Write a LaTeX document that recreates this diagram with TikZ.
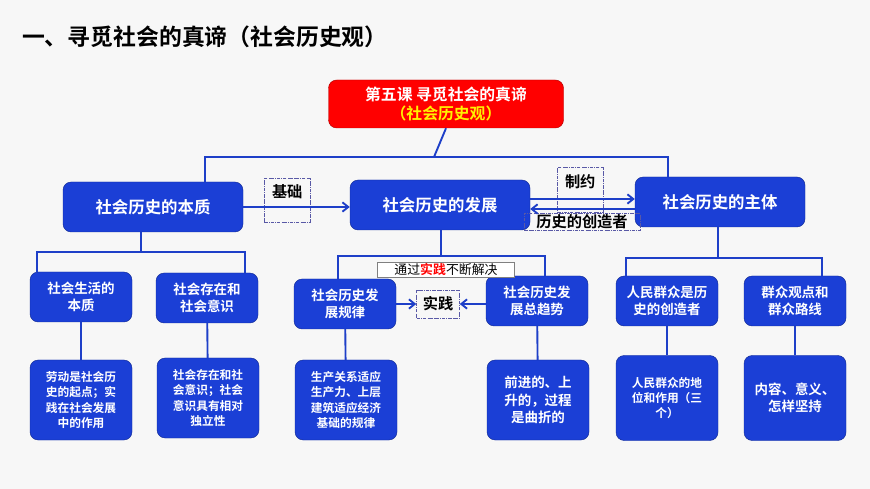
\documentclass[tikz,border=0pt]{standalone}
\usepackage{fontspec}
\setmainfont{Noto Sans CJK SC}[BoldFont={Noto Sans CJK SC Bold}]
\usetikzlibrary{positioning,calc,arrows.meta}
\definecolor{boxblue}{HTML}{1B3FD6}
\definecolor{lineblue}{HTML}{1E3FC8}
\tikzset{topic/.style={draw=boxblue!70!black, fill=boxblue, rounded corners=7pt, text=white, font=\bfseries, align=center, inner sep=2pt}}
\tikzset{big/.style={topic, minimum width=180*0.03cm, minimum height=50*0.03cm, font=\fontsize{14}{16}\selectfont\bfseries}}
\tikzset{mid/.style={topic, minimum width=102*0.03cm, minimum height=50*0.03cm, font=\fontsize{11.5}{14}\selectfont\bfseries}}
\tikzset{low/.style={topic, minimum width=102*0.03cm, minimum height=80*0.03cm, font=\fontsize{10}{13}\selectfont\bfseries}}
\tikzset{tag/.style={draw=gray!70!blue, densely dash dot, font=\fontsize{13}{15}\selectfont\bfseries, inner sep=3pt}}
\tikzset{conn/.style={lineblue, line width=1.6pt}}
\tikzset{arr/.style={conn, -{Straight Barb[length=5pt,width=8pt]}}}

\begin{document}
\begin{tikzpicture}[x=0.03cm,y=-0.03cm]
  \useasboundingbox[fill=gray!6] (0,0) rectangle (870,489);
  % heading
  \node[anchor=west, font=\fontsize{19.5}{21}\selectfont\bfseries] (head) at (18,37) {一、寻觅社会的真谛（社会历史观）};
  % root
  \node[draw=red!70!black, fill=red, rounded corners=7pt, minimum width=235*0.03cm, minimum height=48*0.03cm,
        align=center, font=\fontsize{13.5}{16}\selectfont\bfseries, text=white] (root) at (446,104)
        {第五课 寻觅社会的真谛\\\textcolor{yellow}{（社会历史观）}};

  % first row
  \node[big] (ess) at (153,207) {社会历史的本质};
  \node[big] (dev) at (440,205) {社会历史的发展};
  \node[big, minimum width=170*0.03cm] (sub) at (720,202) {社会历史的主体};

  \coordinate (b0) at (434,157);
  \draw[conn] (root.south) -- (b0);
  \draw[conn] ($(ess.north)+(52,0)$) |- (b0) -| ($(sub.north)+(-52,0)$);

  \node[tag, minimum width=46*0.03cm, minimum height=44*0.03cm, anchor=north west, text depth=18*0.03cm] (base) at (264,178) {基础};
  \draw[arr] (ess.east) -- (ess.east -| dev.west);
  \node[tag, minimum width=46*0.03cm, minimum height=45*0.03cm, anchor=north west, text depth=18*0.03cm] (limit) at (557,167) {制约};
  \node[tag, anchor=center, inner sep=1pt, minimum width=116*0.03cm] (maker) at (582,222) {历史的创造者};
  \draw[arr] ($(dev.east)+(0,-6)$) -- ($(dev.east -| sub.west)+(0,-6)$);
  \draw[arr] ($(dev.east -| sub.west)+(0,4)$) -- ($(dev.east)+(0,4)$);

  % second row, left
  \node[mid] (life) at (81,297) {社会生活的\\本质};
  \node[mid] (being) at (207,298) {社会存在和\\社会意识};
  \node[low] (labour) at (81,400) {劳动是社会历\\史的起点；实\\践在社会发展\\中的作用};
  \node[low] (indep) at (208,398) {社会存在和社\\会意识；社会\\意识具有相对\\独立性};
  \coordinate (b1) at (141,252);
  \draw[conn] (ess.south -| b1) -- (b1);
  \draw[conn] ($(life.north)+(-44,0)$) |- (b1) -| ($(being.north)+(38,0)$);
  \draw[conn] (life) -- (labour);
  \draw[conn] (being) -- (indep);

  % second row, middle
  \node[mid] (law) at (345,304) {社会历史发\\展规律};
  \node[mid] (trend) at (537,301) {社会历史发\\展总趋势};
  \node[low] (prod) at (346,400) {生产关系适应\\生产力、上层\\建筑适应经济\\基础的规律};
  \node[low, font=\fontsize{11.5}{15}\selectfont\bfseries] (fwd) at (538,400) {前进的、上\\升的，过程\\是曲折的};
  \coordinate (b2) at (441,256);
  \draw[conn] (dev.south -| b2) -- (b2);
  \draw[conn] ($(law.north)+(-7,0)$) |- (b2) -| ($(trend.north)+(8,0)$);
  \node[draw=gray, fill=white, font=\fontsize{11}{12}\selectfont, minimum width=137*0.03cm, inner sep=1pt] (solve) at (446,270) {通过\textcolor{red}{\bfseries 实践}不断解决};
  \node[tag, minimum width=43*0.03cm, minimum height=28*0.03cm] (prac) at (438,304) {实践};
  \draw[arr] (law.east |- prac) -- (prac.west);
  \draw[arr] (trend.west |- prac) -- (prac.east);
  \draw[conn] (law) -- (prod);
  \draw[conn] (trend) -- (fwd);

  % second row, right
  \node[mid] (people) at (667,301) {人民群众是历\\史的创造者};
  \node[mid] (mass) at (795,301) {群众观点和\\群众路线};
  \node[low, minimum height=85*0.03cm] (role) at (667,398) {人民群众的地\\位和作用（三\\个）};
  \node[low, minimum height=85*0.03cm, font=\fontsize{11.5}{15}\selectfont\bfseries] (keep) at (795,398) {内容、意义、\\怎样坚持};
  \coordinate (b3) at (718,258);
  \draw[conn] (sub.south -| b3) -- (b3);
  \draw[conn] ($(people.north)+(-41,0)$) |- (b3) -| ($(mass.north)+(27,0)$);
  \draw[conn] (people) -- (role);
  \draw[conn] (mass) -- (keep);
\end{tikzpicture}
\end{document}
